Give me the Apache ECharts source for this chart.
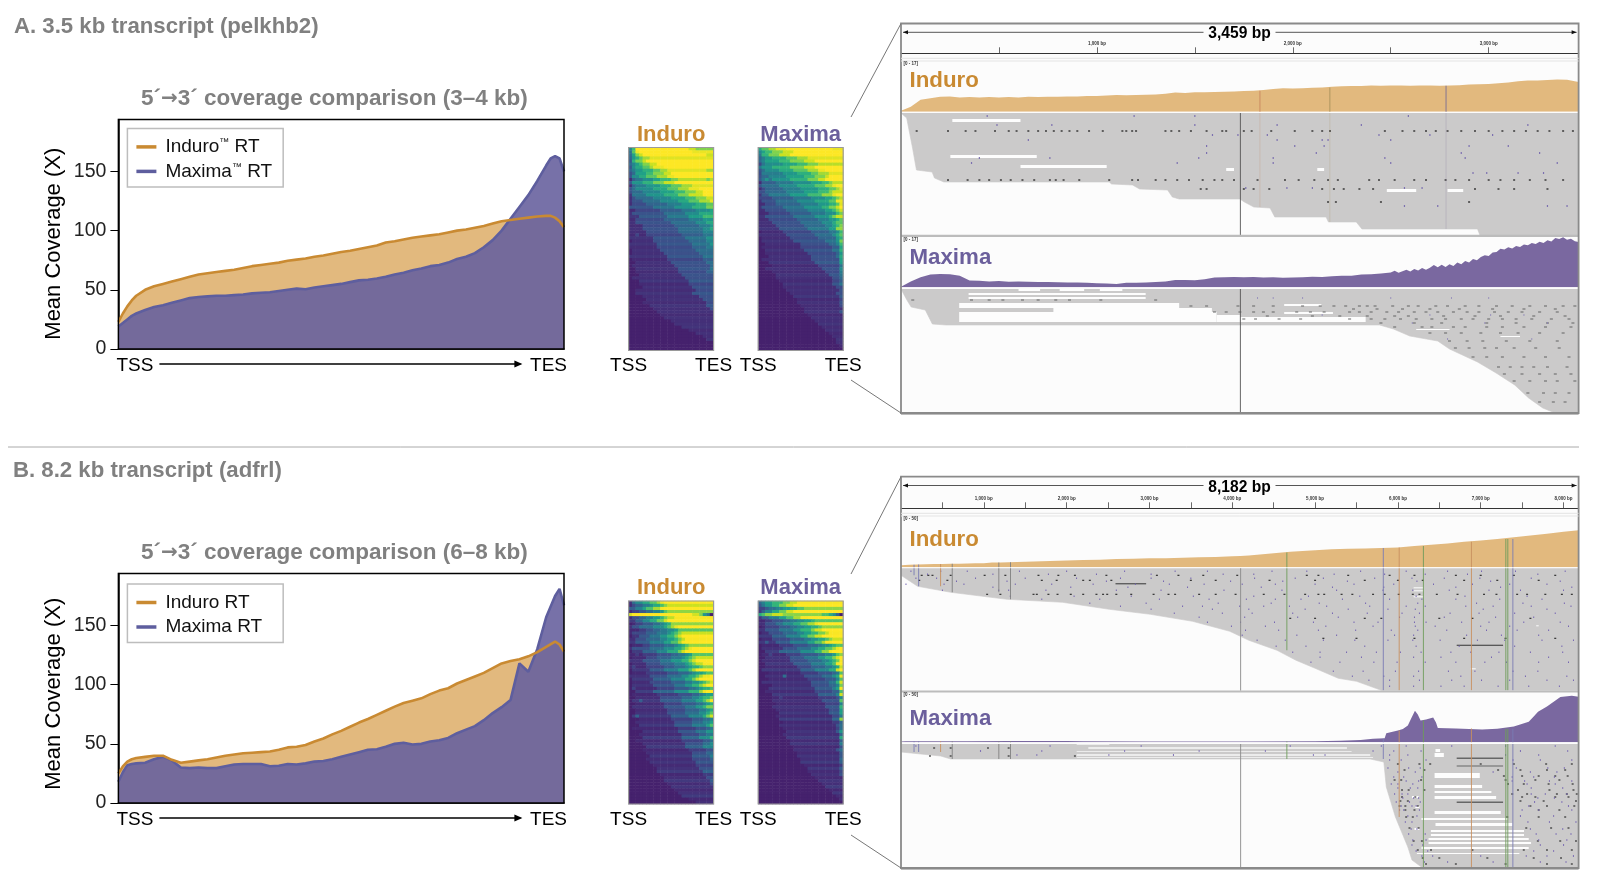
<!DOCTYPE html>
<html>
<head>
<meta charset="utf-8">
<script src="https://cdn.jsdelivr.net/npm/echarts@6/dist/echarts.min.js"></script>
<style>html,body{margin:0;padding:0;background:#fff}#chart{width:1600px;height:886px}</style>
</head>
<body>
<div id="chart"></div>
<script>
// ---- mean coverage curves, position along the transcript in %
var posA = [0,1,2,3,4,6,8,10,12,14,16,18,20,22,24,26,28,30,32,34,36,38,40,42,44,46,48,50,52,54,56,58,60,62,64,66,68,70,72,74,76,78,80,82,84,86,88,90,92,94,96,97,98,99,100];
var induroA = [23,30,36,41,45,50,53,55,57,59,61,63,64,65,66,67,68.5,70,71,72,73,74.5,75.5,76.5,78,79,80.5,82,83,84.5,86,87.5,90,91,92.5,94,95,96,97,98.5,100,101,102.5,104,106,108,109,110,111,112,112.5,112.5,111,108,103];
var maximaA = [19,22,25,28,30,33,35.5,37,39,41,43,44,44.5,45,45,45.5,46,47,47.5,48,49,50,51,50.5,52,53,54,55,56.5,58,58.5,59.5,61,63,64.5,66.5,68,70,71,73,76,78,81,86,92,100,110,120,130,142,155,161,163,161,150];
var posB = [0,1,2,3,4,6,8,10,12,14,16,18,20,22,24,26,28,30,32,34,36,38,40,42,44,46,48,50,52,54,56,58,60,62,64,66,68,70,72,74,76,78,80,82,84,86,88,90,92,94,96,98,99,100];
var induroB = [25,31,35,37,38,39,40,40,36.5,34,35,36,37,38.5,40,41,42,42.5,43,43.5,45,47,47.5,49,52,54.5,58,61,64.5,68,71,74.5,78,81.5,84.5,86.5,88.5,92,95,97,101,104,107,110,114,118,120,121.5,124,127.5,132,136.5,134,128];
var maximaB = [18,26,32,33,33.5,34,37,39,36,30,29.5,30,29.5,29.5,31,32.5,33,33,33,31,31.5,33,32.5,33.5,35,35.5,37,39,41,43,45,45.5,47.5,50,51,49.5,50,52,53,55,59,62,65,70,76,81,87,118,111,130,157,175,181,167];
var coverageTicks = [0,50,100,150];
var endLabels = ['TSS','TES'];

// ---- read-level heatmaps, one string per row, one digit (0-9) per column
var heatInduroA = ["469999999999999998877777","368999999999999999888888","357899999999999999999988","356788999999999999999999","256678899999999999998999","345677889999999999999999","245566788899999999999999","345566677889999999999988","235556677788999999999999","244556667778899999999999","134455566777889999999989","244455566677788999999999","134445555666777888999999","234444455556667778889999","233344444555566677788999","133334444455556667777888","123333344444555566677788","122233333444445556667778","122223333334444555566677","222222233333344444555566","112222222333333444455556","122222222233333344445555","111222222223333334444555","112222222233333334444555","112222222222333333344455","111122222222233333334445","111122222222223333333445","111112222222223333333444","112112222222222333333444","111111122222222233333344","011111122222222223333344","111111112222222222333334","111111112222222222333344","011111111222222222233333","011111111122222222223333","111111111112222222222333","011111111112222222222333","001111111111222222222233","011111111111122222222223","001111111111112222222223","001111111111112222222233","000111111111111222222222","011111111111111122222222","000111111111111112222222","000111111111111112222222","000011111111111111222222","001111111111111111122222","001111111111111111222222","000011111111111111112222","000001111111111111111222","000011111111111111111122","000000111111111111111122","000000011111111111111112","000000001111111111111111","000000000111111111111111","000000000011111111111111","000000000000111111111111","000000000000011111111111","000000000000000111111111","000000000000000001111111","000000000000000000011111","000000000000000000000111","000000000000000000000011","000000000000000000000000","000000000000000000000000","000000000000000000000000"];
var heatMaximaA = ["566778889999999999999888","456677788899999999999999","355666777888899999999999","345566667778889999999999","345555666777788899999999","245555566667778889999999","344455555666677788999999","234444555566667778899999","244444455556666778889999","233444445555566677789999","234344444555556667788999","133334444455555666778999","233333444445555566677899","123333344444555556667789","223333334444455556667888","122333333444445555666789","222233333344444555566789","122223333334444455556688","112223333333444445556679","122222233333344444556678","112222223333334444455678","111222222333333444455578","112222222233333344445677","111222222223333334445567","111122222222333333444566","111112222222233333344567","111111222222223333334466","011111122222222333334457","111111112222222233333456","011111111222222223333356","011111111122222222233346","001111111111222222223346","011111111111222222222336","001111111111122222222335","001111111111112222222235","000111111111111222222235","011111111111111222222225","000111111111111122222224","000011111111111112222224","001111111111111111222224","000011111111111111122224","000001111111111111112223","000001111111111111111223","000000111111111111111223","000000011111111111111223","000000011111111111111122","000000001111111111111112","000000000111111111111122","000000000011111111111112","000000000001111111111112","000000000001111111111112","000000000000111111111112","000000000000011111111111","000000000000011111111112","000000000000001111111111","000000000000000111111111","000000000000000011111111","000000000000000001111111","000000000000000000111111","000000000000000000011111","000000000000000000001111","000000000000000000000111","000000000000000000000011","000000000000000000000011","000000000000000000000001","000000000000000000000000"];
var heatInduroB = ["134455667899999999999999","123344566789999999999999","223345566799999999999999","122334455689999999999999","789999999999998888776430","122334455678899999999999","112233445567899999999999","012233344567999999999999","122333344456789999999999","111223344556679999999999","122223334445678999999999","011222333445567999999999","112223333445567899999999","112222333344556799999999","011122333344456789999999","122222333344455678999999","011122223334445678999999","112122223333445567999999","011112223333444567899999","111122222333444556789999","011112222333344456788999","121112222233344456778999","011111222233334445678899","011112222223334445677899","111111222223333445567889","011111122222333344567889","011111222222333344556789","011111122222233344556788","021111112222233334456778","001111122222233334445678","011111112222223333445677","001111111222222333445667","011211111222222333344567","001111111122222333344567","011111111122222233344566","001111111112222233334456","001111111112222233334456","012111111111222223333456","000111111111222222333445","001111111111122222333445","000111111111122222333345","011111111111112222233345","000011111111112222233344","000111111111111222223344","000011111111111222223334","001111111111111222222334","000011111111111122222334","000001111111111122222333","000011111111111112222233","000001111111111111222233","000000111111111111222223","000001111111111111222223","000000111111111111122222","000000011111111111122222","000000001111111111112222","000000001111111111111222","000000000111111111111222","000000000011111111111122","000000000011111111111112","000000000001111111111112","000000000000111111111111","000000000000011111111111","000000000000001111111111","000000000000000111111111","000000000000000001111111","000000000000000000011111"];
var heatMaximaB = ["345566677889999999999999","234455667788999999999999","223445566778899999999999","123344556677889999999999","678899988888888888776530","122333445566778899999999","112233344556677899999999","112223344455667789999999","012222333445566778999999","112222333344555677899999","011222233334455667789999","111122223333445566788999","011122222333344556678999","112112222333334455677899","011111222233334445667899","011111122223333445566789","001111222222333344556789","011211112222333334455689","001111111222233334455679","011111111222223333445679","001111111122222333344579","001111111112222333344569","011111111111222233334469","000111111111222223333459","001111131111122222333458","000111111111112222233358","011111111111111222223357","000011111111111222223347","000111111111111122222347","001111111111111122222337","000011111111111112222236","000011211111111112222236","000011111111111111222226","000001111111111111122225","000011111111111111122225","000001111111111111112225","000000111111111111112224","000001111111111111111224","000000111111111111111225","000000011111111111111224","000000111111111111111123","000000011111111111111124","000000001111111111111124","000000011111111111111113","000000001111111111111114","000000000111111111111113","000000000111111111111113","000000000011111111111113","000000000011111111111123","000000000001111111111113","000000000001111111111112","000000000000111111111113","000000000000111111111112","000000000000011111111112","000000000000001111111112","000000000000001111111112","000000000000000111111112","000000000000000011111111","000000000000000001111111","000000000000000000111111","000000000000000000011111","000000000000000000001111","000000000000000000000111","000000000000000000000011","000000000000000000000001","000000000000000000000000"];
// row brightness read from the streaks, one digit per row (4 = as listed, lower is darker)
var streakInduroA = "454364534526354645362573535426463546254635472536453645354563546445";
var streakMaximaA = "546342653462534725364263547253642635472536426354725346254635246534";
var streakInduroB = "537264825136472581364271583629147263582471639258147362581473625814";
var streakMaximaB = "462837152648371592647381526473815264739152648371526481735264817352";
var heatColours = ['#45206c','#452c76','#3d4e8a','#31688e','#26828e','#1f9e89','#35b779','#7ad151','#c5e021','#fde725'];

// ---- IGV panel A (3,459 bp)
var lengthA = 3459;
var covInduroA = [[0,0.3],[50,1.7],[100,4.0],[150,4.5],[200,5.0],[250,5.1],[300,4.8],[350,4.9],[400,4.8],[450,4.9],[500,4.8],[550,4.9],[600,4.8],[650,5.0],[700,4.9],[750,5.0],[800,5.0],[850,5.1],[900,5.1],[950,5.3],[1000,5.3],[1050,5.4],[1100,5.6],[1150,5.5],[1200,5.6],[1250,5.7],[1300,5.8],[1350,6.0],[1400,6.4],[1450,6.3],[1500,6.5],[1550,6.5],[1600,6.6],[1650,6.7],[1700,6.8],[1750,6.9],[1800,7.0],[1850,7.3],[1900,7.6],[1950,7.9],[2000,7.8],[2050,7.9],[2100,8.0],[2150,8.1],[2200,8.4],[2250,8.5],[2300,8.6],[2350,8.6],[2400,8.8],[2450,8.7],[2500,8.8],[2550,8.8],[2600,8.7],[2650,8.8],[2700,8.8],[2750,8.7],[2800,8.8],[2850,8.9],[2900,9.1],[2950,9.2],[3000,9.3],[3050,9.5],[3100,9.8],[3150,10.2],[3200,10.5],[3250,10.5],[3300,10.6],[3350,10.8],[3400,10.7],[3459,10.0]];
var covMaximaA = [[0,0.2],[50,2.0],[100,3.4],[150,4.3],[200,4.5],[250,4.4],[300,3.9],[350,2.3],[400,2.2],[450,2.0],[500,2.1],[550,1.9],[600,2.0],[650,1.9],[700,1.8],[750,1.8],[800,1.7],[850,1.6],[900,1.6],[950,1.5],[1000,1.4],[1050,1.3],[1100,1.1],[1150,1.5],[1200,1.5],[1250,1.6],[1300,1.8],[1350,2.0],[1400,2.5],[1450,2.5],[1500,2.4],[1550,2.7],[1600,3.3],[1650,3.4],[1700,3.5],[1750,3.4],[1800,3.5],[1850,3.3],[1900,3.4],[1950,3.2],[2000,3.3],[2050,3.4],[2100,3.6],[2150,3.5],[2200,3.7],[2250,3.9],[2300,3.9],[2350,4.3],[2400,4.4],[2450,4.7],[2500,5.0],[2520,5.6],[2540,4.9],[2560,5.4],[2580,5.9],[2600,5.3],[2620,6.2],[2640,5.7],[2660,6.5],[2680,5.9],[2700,6.6],[2720,7.5],[2740,6.8],[2760,7.6],[2780,6.9],[2800,7.8],[2820,7.2],[2840,8.4],[2860,7.8],[2880,8.9],[2900,8.4],[2920,9.6],[2940,9.1],[2960,10.2],[2980,10.8],[3000,10.6],[3020,11.8],[3040,11.9],[3060,13.0],[3080,12.8],[3100,13.5],[3120,13.1],[3140,14.0],[3160,13.6],[3180,14.5],[3200,14.2],[3220,15.0],[3240,14.6],[3260,15.4],[3280,15.0],[3300,15.9],[3320,15.5],[3340,16.7],[3360,16.3],[3380,16.9],[3400,16.1],[3420,16.4],[3440,15.6],[3459,15.3]];
var readsInduroA = [[0,0],[29,5],[59,35],[79,57],[159,59],[171,65],[219,69],[1063,69],[1075,71],[1182,72],[1218,76],[1361,77],[1385,84],[1420,86],[1730,86],[1753,89],[1801,94],[1884,95],[1908,104],[2170,104],[2182,109],[2324,109],[2353,116],[2943,116],[2955,122],[3459,122]];
var readsMaximaA = [[0,0],[30,11],[52,18],[124,21],[160,35],[231,36],[2372,36],[2443,36],[2514,40],[2597,47],[2740,52],[2800,60],[2943,73],[3038,84],[3133,96],[3204,109],[3276,119],[3340,124],[3459,124]];
var gapsInduroA = [[262,610,6,9],[252,693,42,45],[610,1050,52,55],[1660,1700,55,58],[2125,2160,55,58],[2480,2630,76,79],[2790,2870,76,79]];
var gapsMaximaA = [[600,710,0,2],[810,935,0,2],[1015,1130,0,2],[345,1249,4,6],[345,1249,8,10],[297,1420,14,19],[778,1587,19,23],[297,1611,23,33],[1611,1730,26,33],[1730,2372,28,33],[1956,2146,15,17],[1956,2205,23,25],[3060,3160,47,48],[2630,2800,40,41]];
var blackInduroA = [[18,[80,240,330,380,480,550,590,650,700,740,780,820,860,900,960,1030,1130,1150,1180,1200,1350,1380,1420,1480,1560,1640,1660,1750,1790,1890,2010,2100,2150,2190,2470,2560,2620,2680,2730,2790,2860,2930,3000,3070,3130,3190,3250,3310,3380,3430]],[67,[240,340,400,450,510,560,620,680,760,790,830,910,1063,1180,1210,1300,1350,1410,1470,1540,1600,1640,1700,1820,1960,2030,2110,2180,2230,2390,2440,2520,2620,2680,2780,2830,2900,3000,3060,3130,3210,3290,3380]],[76,[1530,1560,1750,1800,1880,2150,2210,2260,2340,2410,2930,3050,3130,3300]],[89,[2180,2220,2450,2900]]];
var purpleInduroA = [[3,[440,1190,1500,2590]],[12,[490,770,1500,1920,2350,3200]],[22,[1590,1720,1870,2440,2700,3020]],[27,[650,1920,2150,2180,2500]],[33,[1560,2010,2160,2900,3100]],[40,[1560,2120,2860,3260]],[45,[400,760,1520,1900,2470,2880]],[50,[360,1410,1900,2500,3350]],[60,[2920,2990,3150,3280]],[75,[1760,1970,2100,2570,2660]],[93,[2570,2740,3300,3400]]];
var blackMaximaA = [[11,[60,360,450,520,620,700,790,860,1020,1300]],[17,[1480,1560,1720,1800,1900,2050,2140,2210,2270,2340,2380,2420,2510,2590,2640,2730,2790,2880,2950,3040,3120,3210,3290,3380,3440]],[20,[2310,2430,2560,2700,2850,3020,3180,3340]],[23,[1600,1660,1730,1800,1850,1900,2020,2090,2160,2290,2340,2400,2480,2540,2620,2680,2740,2820,2890,2950,3030,3100,3170,3260,3350]],[27,[1870,2100,2240,2380,2520,2590,2770,2930,3060,3230,3390]],[30,[1750,1810,1930,2040,2290,2400,2470,2550,2630,2710,2780,2860,2920,3000,3070,3140,3220,3320,3410]],[34,[2450,2620,2760,2990,3140,3300,3430]],[38,[2520,2660,2710,2820,2880,2990,3070,3180,3290,3420]],[44,[2700,2780,2860,2960,3060,3150,3260,3380]],[52,[2800,2890,2970,3090,3210,3350]],[59,[2830,2900,2980,3040,3130,3240,3360]],[68,[2920,2990,3070,3180,3290,3410]],[78,[3050,3110,3170,3230,3300,3400]],[85,[3080,3170,3260,3340,3420]],[92,[3130,3210,3290,3350,3440]],[104,[3200,3280,3340,3410]],[113,[3260,3330,3390]]];
var purpleMaximaA = [[9,[1820,1900,2050,2500,2810,3000]],[26,[2150,2700,3010,3180]],[34,[2610,2980,3300]],[50,[2790,3220]]];
var redLinesA = [1830];
var oliveLinesA = [2187];
var blueLinesA = [2780];

// ---- IGV panel B (8,182 bp)
var lengthB = 8182;
var covInduroB = [[0,2.0],[100,2.6],[200,2.8],[300,3.0],[400,3.1],[500,3.2],[600,3.4],[700,3.5],[800,3.7],[900,3.9],[1000,4.0],[1100,4.7],[1200,4.8],[1300,5.0],[1400,5.2],[1500,5.5],[1600,5.7],[1700,5.9],[1800,6.2],[1900,6.5],[2000,6.6],[2200,7.0],[2400,7.4],[2600,8.0],[2800,8.3],[3000,8.7],[3200,8.9],[3400,9.3],[3600,9.7],[3800,10.1],[4000,10.7],[4100,11.0],[4200,11.5],[4300,12.2],[4400,13.0],[4500,13.8],[4600,14.5],[4700,15.2],[4800,15.7],[5000,16.7],[5200,17.5],[5400,18.0],[5600,18.4],[5800,18.8],[6000,19.4],[6100,20.0],[6200,20.7],[6400,22.0],[6600,23.2],[6800,24.8],[7000,26.2],[7200,27.6],[7400,29.2],[7600,30.9],[7800,32.7],[8000,34.6],[8182,36.0]];
var covMaximaB = [[0,0.8],[60,1],[800,1.1],[1300,1.3],[2000,1.2],[2200,1],[3000,0.9],[4200,0.9],[5000,1.1],[5300,1.5],[5550,2.3],[5700,3.5],[5840,4],[5860,9],[6000,12],[6060,13.5],[6120,17],[6160,24],[6206,31.7],[6240,28],[6274,22],[6340,23],[6426,25],[6460,20],[6482,14.5],[6700,13.8],[7017,13],[7200,13.6],[7400,16],[7580,20.7],[7640,26],[7692,30.7],[7800,36],[7962,45.7],[8100,47],[8182,46]];
var readsInduroB = [[0,7],[200,18],[600,24],[1280,31],[1950,34],[2515,41],[3010,46],[3520,53],[3970,63],[4200,72],[4540,82],[4770,92],[5000,100],[5280,110],[5500,113],[5800,122],[8182,122]];
var readsMaximaB = [[0,8],[480,12],[600,15],[5666,15],[5830,18],[5860,43],[5970,73],[6120,103],[6170,116],[6300,124],[8182,124]];
var gapsMaximaB = [[6454,6510,5,8],[6443,6555,9,13],[6443,6989,29,34],[6443,7017,41,44],[6443,7129,47,49],[6443,7186,52,55],[6443,7242,67,70],[6285,7326,74,76],[6454,7383,79,82],[6398,7523,86,88],[6398,7523,90,92],[6370,7580,94,96],[6370,7608,98,100],[6285,7580,103,105],[6229,7467,109,110],[6170,6250,52,54],[6210,6260,62,64],[6200,6260,84,86]];
var paleMaximaB = [[2121,2515,0,1],[2262,5385,3,5],[2121,5441,7,8],[2121,5666,10,12],[2121,5700,13,14]];
var barsInduroB = [[6710,7270,76.5,77.5],[2590,2960,15,16]];
var barsMaximaB = [[6710,7270,13.5,15],[6710,7270,21.5,22.5],[6710,7270,57.5,59]];
var gapsInduroB = [[6190,6310,19,20],[6190,6310,22,23],[6190,6310,28,29],[6880,6940,100,101],[7670,7700,57,58],[4540,4600,88,89]];
var blackInduroB = [[7,[250,330,380,600,1010,1260,1660,1900,2100,2480,3090,3350,3650,4060,4900,5040,5400,5900,6200,6700,7000,7400,7900]],[12,[220,560,1700,1880,2200,2280,2540,3500,3800,4450,5000,5600,6000,6300,6800,7200,7700]],[26,[1040,1200,1600,1640,1780,1890,2050,2200,2360,2440,2490,2600,2780,3050,3230,3310,3600,3800,4040,4380,4630,4880,5040,5110,5320,5450,5700,5840,6010,6180,6260,6470,6720,7040,7190,7440,7560,7780,7980,8100]],[50,[4700,5000,5600,5800,6500,6900,7600]],[70,[5100,5500,6200,6800,7300,7900]]];
var purpleInduroB = [[3,[120,480,800,1430,2000,2700,3310,3700,4480,4900,5550,6100,6600,7010,7420,8020]],[6,[320,1110,1780,2360,3020,3890,4260,5230,5840,6330,6840,7690]],[10,[180,430,900,1500,2120,2650,3020,3500,4270,4760,5100,5720,6170,6560,6990,7610]],[13,[670,1280,2480,3170,3980,4610,5390,6230,7120,7960]],[16,[60,520,760,1380,1820,2320,2830,3240,3660,4120,4520,5000,5470,5950,6430,6900,7350,7800]],[19,[1110,2050,2740,3460,4350,5210,5830,6700,7240,8100]],[22,[500,1180,1300,1750,2600,3140,3900,4600,5260,5820,6180,6620,7100,7480,8000]],[28,[1320,2090,2780,3530,4260,4920,5540,6220,6810,7560]],[31,[1700,2400,3120,3720,4170,4520,4830,5330,5900,6290,6700,7230,7740]],[35,[2280,2960,3830,4470,5050,5610,6240,6950,7510,8010]],[38,[2650,3400,3640,4090,4380,4690,5140,5660,6100,6330,6820,7150,7610,8090]],[41,[3020,3760,4200,4880,5400,5880,6210,7030,7800]],[45,[3300,3880,4240,4730,5210,5630,6050,6260,6630,6980,7410,7900]],[49,[3600,4150,4790,5280,6020,6200,6560,7180,7640]],[54,[3700,4100,4510,4980,5470,5760,6200,6340,6770,7100,7520,7960]],[58,[3990,4400,5130,5700,6210,6450,7000,7350,8060]],[62,[4160,4560,5040,5490,5920,6240,6590,7070,7440,7820]],[67,[4120,4780,5260,5960,6190,6830,7250,7700]],[72,[4300,4640,5100,5480,5880,6180,6510,6960,7290,7740,8120]],[78,[4530,4890,5600,6220,6740,7410,7980]],[84,[4730,5060,5380,5740,6030,6280,6640,6880,7220,7600,7990]],[89,[5060,5560,6190,6520,7130,7820]],[94,[4950,5300,5710,5990,6330,6700,7050,7310,7700,8060]],[103,[5220,5580,5970,6250,6610,6930,7390,7690]],[108,[5450,5830,6190,6760,7540,8040]],[112,[5650,5900,6260,6650,7010,7350,7800,8120]],[118,[5900,6190,6520,6800,7210,7580,7950]]];
var blackMaximaB = [[4,[400,600,1050,1300]],[12,[350,600,1300,2100]],[20,[6000,6260,6390,7000,7400,7790,8100]],[26,[6080,6320,7210,7480,7800,8020]],[32,[7280,7500,7700,7900,8050]],[36,[5960,6040,6280,7300,7660,7950]],[40,[7330,7520,7820,8110]],[46,[6050,6130,6320,7450,7830,8120]],[50,[7380,7560,7920,8040,8160]],[53,[6050,6210,7500,7660,7900,8060]],[57,[6030,6120,7480,7760,8150]],[62,[6020,6090,6240,7600,7800,8130]],[66,[6090,6200,7700,7950]],[73,[6100,6180,7320,7700,8020]],[84,[6140,6250,7550,7850,8060]],[97,[6190,6290,7690,7960,8150]],[106,[6240,6400,6900,7520,7800,8100]],[114,[6300,6500,7080,7640,7970]],[120,[6340,6700,7300,7800,8100]]];
var purpleMaximaB = [[2,[180,1800,2900,4700,5800,6100,6650,7300,7900]],[7,[960,1700,2700,3600,4400,5700,5950,6280,7480,8050]],[11,[1400,1640,2510,3290,4980,5120,5900,6120,7300,7700]],[16,[5900,6040,6340,7390,7720,8100]],[24,[5880,6130,6270,7430,7810,8010]],[28,[6000,6210,7150,7600,7920]],[33,[5950,6070,6290,7380,7640,7890]],[37,[6100,6250,7380,7530,7830,8100]],[40,[5920,6000,6180,7560,7900]],[44,[6000,6150,6240,7610,7990]],[50,[5960,6050,6120,7610,7780,8040]],[54,[6060,6190,6250,7690,7890]],[58,[5980,6140,6270,7650,7980]],[62,[6040,6170,6220,7580,8060]],[66,[6020,6070,6260,7500,7700,8100]],[72,[6120,6230,7480,7880]],[78,[6090,6170,7570,7830,8150]],[85,[6160,6230,7600,7990]],[90,[6130,6330,7670,7910,8090]],[96,[6180,6340,7700,8040]],[101,[6170,6300,7720,8000]],[107,[6220,6360,7640,7880]],[112,[6290,6420,7000,7550,7800,8120]],[118,[6320,6600,7150,7720,8030]]];
var greenLinesB = [4654,6302,7298,7322];
var blueLinesB = [152,208,5818,7383];
var orangeLinesB = [473,6010,6882];
var darkLinesB = [613,1176,1317];

var rulerInterval = 500;
var cursorA = 1730;
var cursorB = 4096;

var INDURO = '#c98a32', MAXIMA = '#6b5f9c', INDURO_FILL = '#e2b97e', MAXIMA_FILL = '#7a68a0', READ = '#cbcaca';
var FONT = '"Liberation Sans", Arial, sans-serif';
var option = {animation:false, backgroundColor:'#fff', textStyle:{fontFamily:FONT}, title:[], legend:[], grid:[], xAxis:[], yAxis:[], series:[], graphic:[], visualMap:[]};

function addText(text, x, y, size, color, bold, align) {
    option.graphic.push({type:'text', x:x, y:y, z:50, style:{text:text, fill:color, font:(bold?'bold ':'')+size+'px '+FONT, align:align||'left', verticalAlign:'middle'}});
}
function addLine(x1, y1, x2, y2, color, width, z) {
    option.graphic.push({type:'line', z:z||40, shape:{x1:x1,y1:y1,x2:x2,y2:y2}, style:{stroke:color, lineWidth:width||1}});
}
function addRect(x, y, w, h, fill, stroke, width, z) {
    option.graphic.push({type:'rect', z:z, shape:{x:x,y:y,width:w,height:h}, style:{fill:fill||'none', stroke:stroke||'none', lineWidth:width||0}});
}
function addGrid(x, y, w, h) {
    option.grid.push({left:x, top:y, width:w, height:h, containLabel:false});
    return option.grid.length-1;
}
function hiddenAxes(grid, xmax, ymax, inverse) {
    option.xAxis.push({type:'value', gridIndex:grid, min:0, max:xmax, show:false});
    option.yAxis.push({type:'value', gridIndex:grid, min:0, max:ymax, inverse:!!inverse, show:false});
    return [option.xAxis.length-1, option.yAxis.length-1];
}
function zip(xs, ys) {
    var out = [];
    for (var i=0;i<xs.length;i++) out.push([xs[i],ys[i]]);
    return out;
}
function expandRows(rows) {
    var out = [];
    rows.forEach(function(r){ r[1].forEach(function(bp){ out.push([bp,r[0]]); }); });
    return out;
}
function nearest(profile, bp) {
    var best = profile[0];
    profile.forEach(function(p){ if (p[0] <= bp) best = p; });
    return best[1];
}
// rectangles in data units: [x0, x1, y0, y1]
function addBoxes(ax, data, fill, z, opacity) {
    option.series.push({
        type:'custom', xAxisIndex:ax[0], yAxisIndex:ax[1], z:z, silent:true, data:data,
        encode:{x:[0,1], y:[2,3]},
        renderItem:function(params, api) {
            var a = api.coord([api.value(0), api.value(2)]);
            var b = api.coord([api.value(1), api.value(3)]);
            return {type:'rect', shape:{x:a[0], y:Math.min(a[1],b[1]), width:Math.max(b[0]-a[0],0.9), height:Math.abs(b[1]-a[1])}, style:{fill:fill, opacity:opacity||1}};
        }
    });
}
function addMarks(ax, rows, color, size) {
    option.series.push({type:'scatter', xAxisIndex:ax[0], yAxisIndex:ax[1], z:6, silent:true, symbol:'rect', symbolSize:size, itemStyle:{color:color, opacity:1}, data:expandRows(rows)});
}

function coverageChart(x, y, w, h, pos, ind, max, names, title, nameShift, legendOffset) {
    var g = addGrid(x, y, w, h);
    option.xAxis.push({type:'value', gridIndex:g, min:0, max:100,
        axisLine:{lineStyle:{color:'#000',width:1.5}}, axisTick:{show:false}, splitLine:{show:false},
        axisLabel:{customValues:[0,100], alignMinLabel:'left', alignMaxLabel:'right', color:'#000', fontSize:19, margin:7, padding:[0,-3,0,-2], fontFamily:FONT,
            formatter:function(v){ return v===0?endLabels[0]:endLabels[1]; }}});
    option.yAxis.push({type:'value', gridIndex:g, min:0, max:194, name:'Mean Coverage (X)', nameLocation:'middle', nameGap:53,
        nameTextStyle:{fontSize:22, color:'#000', fontFamily:FONT, padding:[0,nameShift,0,0]},
        axisLine:{show:true, lineStyle:{color:'#000',width:1.5}}, axisTick:{customValues:coverageTicks, length:8, lineStyle:{color:'#000',width:1}}, splitLine:{show:false},
        axisLabel:{customValues:coverageTicks, color:'#222', fontSize:19.5, margin:12, fontFamily:FONT}});
    var xi = option.xAxis.length-1, yi = option.yAxis.length-1;
    option.series.push({name:names[0], type:'line', xAxisIndex:xi, yAxisIndex:yi, z:3, data:zip(pos,ind), symbol:'none', itemStyle:{color:INDURO}, lineStyle:{width:0}, areaStyle:{color:INDURO_FILL,opacity:1}});
    option.series.push({name:names[1], type:'line', xAxisIndex:xi, yAxisIndex:yi, z:4, data:zip(pos,max), symbol:'none', itemStyle:{color:'#5e5e9e'}, lineStyle:{color:'#5e5e9e',width:2.6}, areaStyle:{color:'rgb(104,98,158)',opacity:0.9}});
    option.series.push({name:names[0], type:'line', xAxisIndex:xi, yAxisIndex:yi, z:5, data:zip(pos,ind), symbol:'none', itemStyle:{color:INDURO}, lineStyle:{color:INDURO,width:2.6}});
    addRect(x, y, w, h, null, '#000', 1.5, 30);
    option.legend.push({data:names, orient:'vertical', left:x+9, top:y+legendOffset, itemWidth:20, itemHeight:3.5, icon:'rect', itemGap:5.5, padding:[9,names[0].indexOf('™')>0?11:21,6,9], borderColor:'#bdbdbd', borderWidth:1.5,
        formatter:function(name){ return name.replace('™','{sup|™}'); },
        textStyle:{fontSize:19,color:'#111',fontFamily:FONT,padding:[0,0,0,4], rich:{sup:{fontSize:10,color:'#111',fontFamily:FONT,verticalAlign:'top',lineHeight:17}}}, z:35});
    option.graphic.push({type:'text', x:x+216, y:y-21, z:50, style:{text:'{a|'+title[0]+'}{b|→}{a|'+title[1]+'}', align:'center', verticalAlign:'middle',
        rich:{a:{fill:'#808080',font:'bold 22.5px '+FONT},b:{fill:'#808080',font:'bold 20px "DejaVu Sans"'}}}});
    // TSS -> TES arrow
    var ay = y+h+15;
    addLine(x+41, ay, x+402, ay, '#000', 1.3);
    option.graphic.push({type:'polygon', z:40, shape:{points:[[x+404,ay],[x+396,ay-3.5],[x+396,ay+3.5]]}, style:{fill:'#000'}});
}

function heatmap(x, y, w, h, rows, streak, gainBase, gainStep, label, color) {
    var g = addGrid(x, y, w, h);
    var cols = rows[0].split('').map(function(c,i){return i;});
    var data = [];
    rows.forEach(function(r,ri){
        var gain = gainBase + gainStep*(+streak.charAt(ri));
        r.split('').forEach(function(c,ci){ data.push([ci,ri,(+c+0.1)*gain]); });
    });
    option.xAxis.push({type:'category', gridIndex:g, data:cols, show:false});
    var xi = option.xAxis.length-1;
    option.yAxis.push({type:'category', gridIndex:g, data:rows.map(function(r,i){return i;}), inverse:true, show:false});
    var yi = option.yAxis.length-1;
    option.series.push({type:'heatmap', xAxisIndex:xi, yAxisIndex:yi, data:data, silent:true, z:3, progressive:0});
    option.visualMap[0].seriesIndex.push(option.series.length-1);
    option.xAxis.push({type:'value', gridIndex:g, min:0, max:1, position:'bottom',
        axisLine:{show:false}, splitLine:{show:false},
        axisTick:{customValues:[0,1], length:5, lineStyle:{color:'#999',width:1.2}},
        axisLabel:{customValues:[0,1], color:'#000', fontSize:19, margin:6, fontFamily:FONT, hideOverlap:false,
            formatter:function(v){ return v===0?endLabels[0]:endLabels[1]; }}});
    addRect(x, y, w, h, null, '#9a9a9a', 1.2, 30);
    addText(label, x+w/2, y-13, 22, color, true, 'center');
}

function igvPanel(y0, y1, length, rangeLabel, sizeLabel, parts) {
    var x0 = 901, w = 677.6;
    addRect(x0, y0, w, y1-y0, '#fcfcfc', null, 0, -10);
    // ruler
    var rg = addGrid(x0, y0+5, w, parts.ruler-y0-5);
    option.xAxis.push({type:'value', gridIndex:rg, min:0, max:length, interval:rulerInterval, position:'bottom',
        axisLine:{lineStyle:{color:'#333',width:1.2}}, splitLine:{show:false},
        axisTick:{inside:true, length:6, lineStyle:{color:'#444',width:0.8}},
        axisLabel:{inside:true, margin:7, fontSize:4.5, fontWeight:'bold', color:'#333', showMaxLabel:false, showMinLabel:false, fontFamily:FONT,
            formatter:function(v){ return v%1000===0 && v>0 ? (v/1000)+',000 bp' : ''; }}});
    option.yAxis.push({type:'value', gridIndex:rg, min:0, max:1, show:false});
    option.series.push({type:'line', xAxisIndex:option.xAxis.length-1, yAxisIndex:option.yAxis.length-1, data:[], silent:true});
    var my = y0+8.8, cx = x0+338.5;
    addLine(x0+2, my, cx-36, my, '#555', 1);
    addLine(cx+36, my, x0+w-2, my, '#555', 1);
    option.graphic.push({type:'polygon', z:40, shape:{points:[[x0+2,my],[x0+7,my-2],[x0+7,my+2]]}, style:{fill:'#111'}});
    option.graphic.push({type:'polygon', z:40, shape:{points:[[x0+w-2,my],[x0+w-7,my-2],[x0+w-7,my+2]]}, style:{fill:'#111'}});
    addText(sizeLabel, cx, my+1.8, 15.6, '#000', true, 'center');
    addLine(x0, parts.ruler+5, x0+w, parts.ruler+5, '#e4e4e4', 1);
    addLine(x0, parts.ruler+7.7, x0+w, parts.ruler+7.7, '#e4e4e4', 1);
    // tracks
    parts.tracks.forEach(function(t) {
        var cg = addGrid(x0, t.top, w, t.base-t.top);
        var cax = hiddenAxes(cg, length, t.range);
        option.series.push({type:'line', xAxisIndex:cax[0], yAxisIndex:cax[1], z:3, silent:true, data:t.cov, symbol:'none', lineStyle:{width:0}, areaStyle:{color:t.fill,opacity:1}});
        var rg2 = addGrid(x0, t.readTop, w, t.readBottom-t.readTop);
        var rax = hiddenAxes(rg2, length, t.readBottom-t.readTop, true);
        option.series.push({type:'line', xAxisIndex:rax[0], yAxisIndex:rax[1], z:3, silent:true, data:t.reads, symbol:'none', lineStyle:{color:READ,width:0.6}, areaStyle:{color:READ,opacity:1}});
        addBoxes(rax, t.gaps, '#fdfdfd', 4);
        if (t.pale) addBoxes(rax, t.pale, '#ececec', 4);
        if (t.bars) addBoxes(rax, t.bars, t.barColor, 5);
        t.marks.forEach(function(m){ addMarks(rax, m.rows, m.color, m.size); });
        t.lines.forEach(function(l) {
            addBoxes(cax, l.at.map(function(bp){ return [bp,bp,0,nearest(t.cov,bp)]; }), l.color, 7);
            addBoxes(rax, l.at.map(function(bp){ return [bp,bp,0,nearest(t.reads,bp)]; }), l.color, 7, t.readLineOpacity);
        });
        addBoxes(rax, [[parts.cursor,parts.cursor,0,t.readBottom-t.readTop]], parts.cursorColor, 8);
        addText(rangeLabel, x0+2.5, t.top+2.5, 4.5, '#333', true);
        addText(t.label, x0+8.5, t.labelY, 22.3, t.color, true);
        addLine(x0, t.readBottom+0.8, x0+w, t.readBottom+0.8, '#bcbcbc', 2.2, 20);
    });
    addRect(x0, y0, w, y1-y0, null, '#8a8a8a', 1.8, 30);
}

option.visualMap.push({show:false, type:'continuous', min:0, max:9, dimension:2, seriesIndex:[], inRange:{color:heatColours}});

// section headings
option.title.push({text:'A. 3.5 kb transcript (pelkhb2)', left:14, top:15.5, padding:0, textStyle:{fontSize:22.2,fontWeight:'bold',color:'#808080',fontFamily:FONT}});
option.title.push({text:'B. 8.2 kb transcript (adfrl)', left:13, top:459.5, padding:0, textStyle:{fontSize:22.2,fontWeight:'bold',color:'#808080',fontFamily:FONT}});
addLine(8, 447, 1579, 447, '#aaaaaa', 1);

coverageChart(118.4, 119.4, 445.6, 229.6, posA, induroA, maximaA, ['Induro™ RT','Maxima™ RT'], ['5´','3´ coverage comparison (3–4 kb)'], 19, 9);
coverageChart(118.4, 573.5, 445.6, 229.5, posB, induroB, maximaB, ['Induro RT','Maxima RT'], ['5´','3´ coverage comparison (6–8 kb)'], 11, 10.5);

heatmap(628.6, 147.5, 85, 203, heatInduroA, streakInduroA, 0.72, 0.07, 'Induro', INDURO);
heatmap(758.2, 147.5, 85, 203, heatMaximaA, streakMaximaA, 0.72, 0.07, 'Maxima', MAXIMA);
heatmap(628.6, 601, 85, 203, heatInduroB, streakInduroB, 0.62, 0.09, 'Induro', INDURO);
heatmap(758.2, 601, 85, 203, heatMaximaB, streakMaximaB, 0.62, 0.09, 'Maxima', MAXIMA);

igvPanel(23.5, 413, lengthA, '[0 - 17]', '3,459 bp', {ruler:53.3, cursor:cursorA, cursorColor:'#555555', tracks:[
    {top:61, base:111.7, range:17, cov:covInduroA, fill:INDURO_FILL, label:'Induro', color:INDURO, labelY:80.5,
     readTop:113, readBottom:235, reads:readsInduroA, gaps:gapsInduroA, readLineOpacity:0.25,
     marks:[{rows:blackInduroA,color:'#222',size:[2,1.3]},{rows:purpleInduroA,color:'#7c70b0',size:[1.2,2]}],
     lines:[{at:redLinesA,color:'#c9875e'},{at:oliveLinesA,color:'#a8935c'},{at:blueLinesA,color:'#7a6e95'}]},
    {top:237, base:287.3, range:17, cov:covMaximaA, fill:MAXIMA_FILL, label:'Maxima', color:MAXIMA, labelY:257.5,
     readTop:289, readBottom:413, reads:readsMaximaA, gaps:gapsMaximaA,
     marks:[{rows:blackMaximaA,color:'#555',size:[3,0.9]},{rows:purpleMaximaA,color:'#8a80b8',size:[1,1.4]}],
     lines:[]}
]});
igvPanel(476.7, 868, lengthB, '[0 - 50]', '8,182 bp', {ruler:508.3, cursor:cursorB, cursorColor:'#8a8a8a', tracks:[
    {top:516, base:567.3, range:50, cov:covInduroB, fill:INDURO_FILL, label:'Induro', color:INDURO, labelY:539.5,
     readTop:568.3, readBottom:690.7, reads:readsInduroB, gaps:gapsInduroB, bars:barsInduroB, barColor:'#333333',
     marks:[{rows:blackInduroB,color:'#222',size:[2,1.1]},{rows:purpleInduroB,color:'#7565b2',size:[1,1.6]}],
     lines:[{at:greenLinesB,color:'#6e9c5a'},{at:blueLinesB,color:'#7a7cb4'},{at:orangeLinesB,color:'#c8905f'},{at:darkLinesB,color:'#808080'}]},
    {top:692.7, base:742.3, range:50, cov:covMaximaB, fill:MAXIMA_FILL, label:'Maxima', color:MAXIMA, labelY:718.5,
     readTop:744, readBottom:868, reads:readsMaximaB, gaps:gapsMaximaB, pale:paleMaximaB, bars:barsMaximaB, barColor:'#666666',
     marks:[{rows:blackMaximaB,color:'#222',size:[2,1.1]},{rows:purpleMaximaB,color:'#7565b2',size:[1.1,1.7]}],
     lines:[{at:greenLinesB,color:'#6e9c5a'},{at:blueLinesB,color:'#7a7cb4'},{at:orangeLinesB,color:'#c8905f'},{at:darkLinesB,color:'#808080'}]}
]});

// zoom connectors
addLine(851, 117, 901, 23.5, '#777', 1);
addLine(851, 380, 901, 413, '#777', 1);
addLine(851, 574, 901, 476.7, '#777', 1);
addLine(851, 835, 901, 868, '#777', 1);

var chart = echarts.init(document.getElementById('chart'), null, {renderer:'canvas'});
chart.setOption(option);
</script>
</body>
</html>
